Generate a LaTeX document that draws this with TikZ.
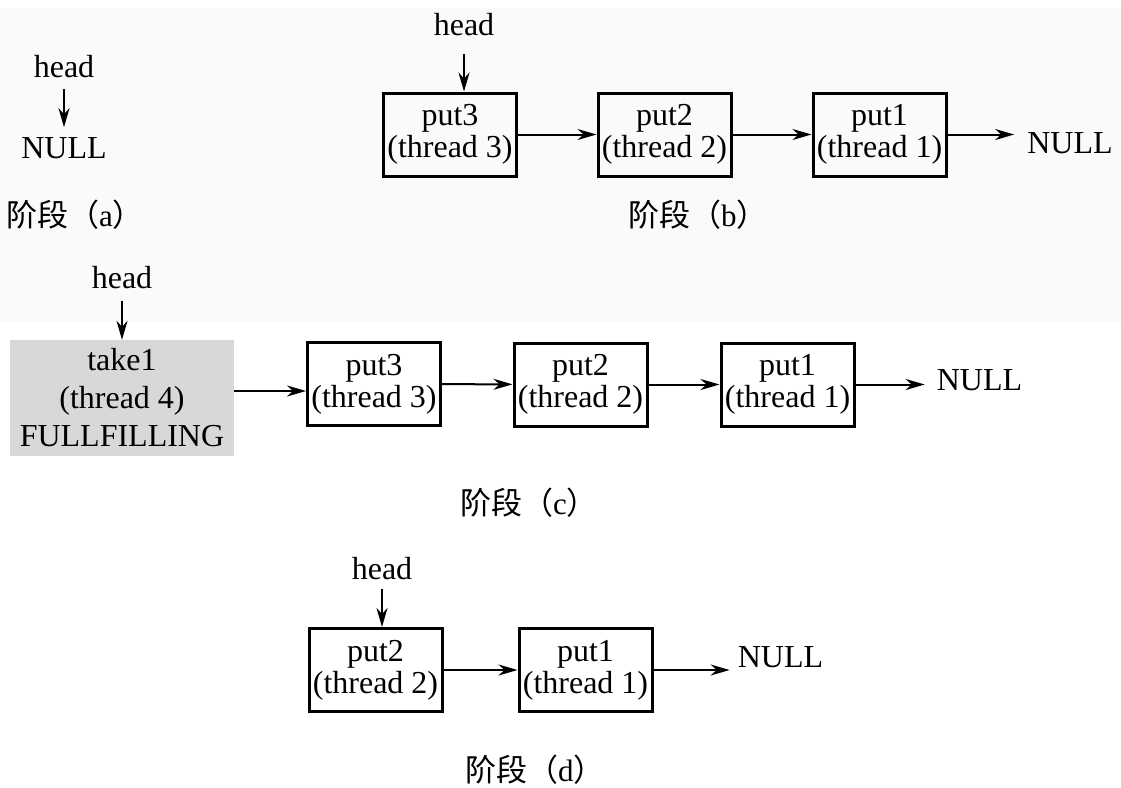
\documentclass[tikz,border=0pt]{standalone}
\usepackage{fontspec}
\setmainfont{Liberation Serif}
\newfontfamily\cjk{Noto Sans CJK SC}
\usetikzlibrary{arrows.meta}
\definecolor{shade}{RGB}{216,216,216}
\definecolor{band}{RGB}{250,250,250}
\tikzset{
  txt/.style={inner sep=0pt, font=\fontsize{32}{32}\selectfont},
  cell/.style={draw, line width=3pt, minimum width=133pt, minimum height=83pt,
    inner sep=0pt, align=center, font=\fontsize{32}{32}\selectfont},
  busy/.style={fill=shade, minimum width=224pt, minimum height=116pt,
    inner sep=0pt, align=center, font=\fontsize{32}{38}\selectfont},
  stage/.style={inner sep=0pt, anchor=west, font=\fontsize{31}{31}\cjk},
  link/.style={line width=2pt, -{Stealth[length=19pt,width=11pt,inset=6pt]}},
}
\begin{document}
\begin{tikzpicture}[x=1pt,y=-1pt]
\useasboundingbox (0,0) rectangle (1121,787);
\fill[band] (0,8) rectangle (1121,322);

% stage (a): empty queue
\node[txt] (ha) at (64,66.5) {head};
\node[txt] (na) at (64,148) {NULL};
\draw[link, shorten <=11pt, shorten >=10pt] (ha) -- (na);
\node[stage] (sa) at (6,215) {阶段（\textrm{a}）};

% stage (b): three waiting puts
\node[txt] (hb) at (464,25) {head};
\node[cell] (b3) at (450,134.5) {put3\\(thread 3)};
\node[cell] (b2) at (664.5,134.5) {put2\\(thread 2)};
\node[cell] (b1) at (879.5,134.5) {put1\\(thread 1)};
\node[txt] (nb) at (1070,143) {NULL};
\draw[link, shorten <=18pt] (hb) -- (hb |- b3.north);
\draw[link] (b3) -- (b2);
\draw[link] (b2) -- (b1);
\draw[link, shorten >=13pt] (b1) -- (b1 -| nb.west);
\node[stage] (sb) at (628,215) {阶段（\textrm{b}）};

% stage (c): take fulfilling at the head
\node[txt] (hc) at (122,278) {head};
\node[busy] (g) at (122,398) {take1\\(thread 4)\\FULLFILLING};
\node[cell] (c3) at (374,384) {put3\\(thread 3)};
\node[cell] (c2) at (580.5,384.5) {put2\\(thread 2)};
\node[cell] (c1) at (787.5,384.5) {put1\\(thread 1)};
\node[txt] (nc) at (979.5,380) {NULL};
\draw[link, shorten <=12pt] (hc) -- (g);
\draw[link] ([yshift=7pt]g.east) -- ([yshift=7pt]g.east -| c3.west);
\draw[link] (c3) -- (c2);
\draw[link] (c2) -- (c1);
\draw[link, shorten >=12pt] (c1) -- (c1 -| nc.west);
\node[stage] (sc) at (460,503) {阶段（\textrm{c}）};

% stage (d): after the match
\node[txt] (hd) at (382,568.5) {head};
\node[cell] (d2) at (375.5,670) {put2\\(thread 2)};
\node[cell] (d1) at (585.5,670) {put1\\(thread 1)};
\node[txt] (nd) at (780.5,657) {NULL};
\draw[link, shorten <=9pt] (hd) -- (hd |- d2.north);
\draw[link] (d2) -- (d1);
\draw[link, shorten >=8pt] (d1) -- (d1 -| nd.west);
\node[stage] (sd) at (465,770) {阶段（\textrm{d}）};
\end{tikzpicture}
\end{document}
